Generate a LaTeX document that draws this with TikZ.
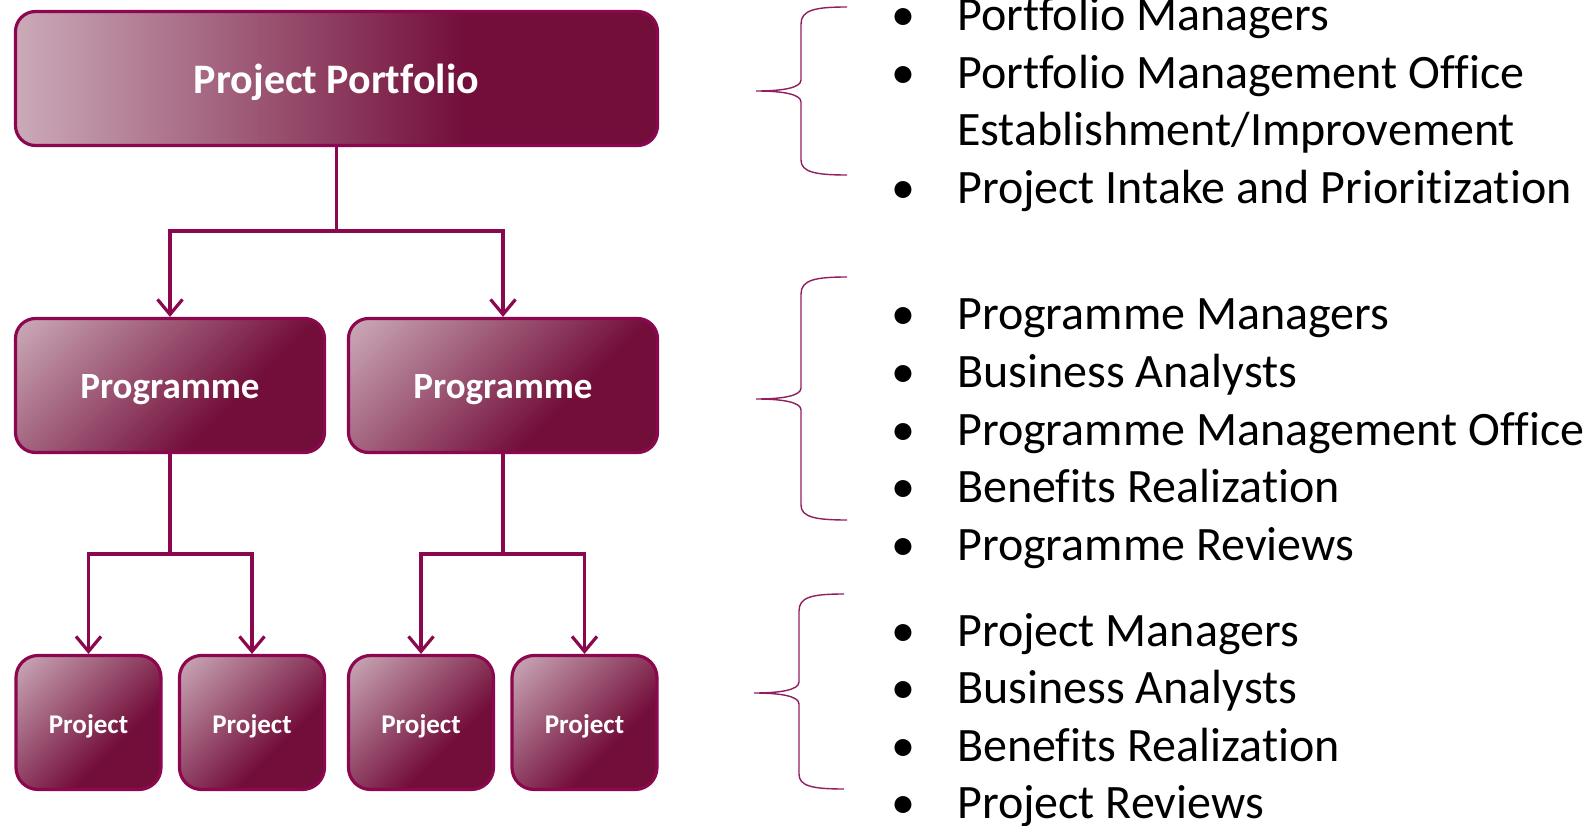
\documentclass[tikz,border=0pt]{standalone}
\usepackage{fontspec}
\setmainfont{Carlito}[Ligatures=NoCommon]
\usetikzlibrary{arrows.meta}
\definecolor{gl}{RGB}{203,170,184}
\definecolor{gd}{RGB}{115,14,58}
\definecolor{bd}{RGB}{140,8,78}
\definecolor{br}{RGB}{145,30,95}
\pgfdeclarehorizontalshading{hgrad}{100bp}{color(0bp)=(gl); color(25bp)=(gl); color(60bp)=(gd); color(100bp)=(gd)}
\pgfdeclarehorizontalshading{dgrad}{100bp}{color(0bp)=(gl); color(15bp)=(gl); color(63bp)=(gd); color(100bp)=(gd)}
\begin{document}
\begin{tikzpicture}[x=1pt,y=-1pt,
  boxbase/.style={draw=bd, line width=3.2pt, rounded corners=20pt, text=white, inner sep=0pt, text depth=0pt},
  topbox/.style={boxbase, shading=hgrad, minimum width=642pt, minimum height=134pt, text height=31pt, font=\bfseries\fontsize{42}{50}\selectfont},
  progbox/.style={boxbase, shading=dgrad, shading angle=-45, minimum width=309pt, minimum height=134pt, text height=26pt, font=\bfseries\fontsize{37}{44}\selectfont},
  projbox/.style={boxbase, shading=dgrad, shading angle=-45, minimum width=145pt, minimum height=134pt, rounded corners=22pt, text height=21pt, font=\bfseries\fontsize{27}{32}\selectfont},
  conn/.style={draw=bd, line width=3.2pt},
  arr/.style={conn, -{Straight Barb[length=15pt,width=25pt]}},
  brace/.style={draw=br, line width=1.4pt},
  item/.style={anchor=base west, inner sep=0pt, font=\fontsize{48}{57}\selectfont},
  bul/.style={anchor=base, inner sep=0pt, font=\fontsize{48}{57}\selectfont}
]
\useasboundingbox (0,0) rectangle (1590,826);

% boxes
\node[topbox] (top) at (336.5,78.5) {Project Portfolio};
\node[progbox] (pA) at (170,385.5) {Programme};
\node[progbox] (pB) at (503,385.5) {Programme};
\node[projbox] (q1) at (88.5,722.5) {Project};
\node[projbox] (q2) at (252,722.5) {Project};
\node[projbox] (q3) at (421,722.5) {Project};
\node[projbox] (q4) at (584.5,722.5) {Project};

% connectors
\coordinate (j1) at (336.5,231);
\coordinate (j2) at (170,554);
\coordinate (j3) at (503,554);
\draw[conn] (top.south) -- (j1);
\draw[arr] (j1) -| (pA.north);
\draw[arr] (j1) -| (pB.north);
\draw[conn] (pA.south) -- (j2);
\draw[arr] (j2) -| (q1.north);
\draw[arr] (j2) -| (q2.north);
\draw[conn] (pB.south) -- (j3);
\draw[arr] (j3) -| (q3.north);
\draw[arr] (j3) -| (q4.north);

% braces
\draw[brace] (847,7) .. controls (815,7) and (801,10) .. (801,24) -- (801,80)
  .. controls (801,88) and (782,91) .. (756,91)
  .. controls (782,91) and (801,94) .. (801,102) -- (801,160)
  .. controls (801,172) and (815,175) .. (847,175);
\draw[brace] (847,277) .. controls (815,277) and (801,280) .. (801,294) -- (801,388)
  .. controls (801,396) and (782,399) .. (756,399)
  .. controls (782,399) and (801,402) .. (801,410) -- (801,505)
  .. controls (801,517) and (815,520) .. (847,520);
\draw[brace] (844,594) .. controls (812,594) and (799,597) .. (799,611) -- (799,682)
  .. controls (799,690) and (780,693) .. (754,693)
  .. controls (780,693) and (799,696) .. (799,704) -- (799,774)
  .. controls (799,786) and (812,789) .. (844,789);

% lists
\node[bul] (b1) at (903,31) {•};
\node[item] (t1) at (957,31) {Portfolio Managers};
\node[bul] (b2) at (903,88.5) {•};
\node[item] (t2) at (957,88.5) {Portfolio Management Office};
\node[item] (t2b) at (957,146) {Establishment/Improvement};
\node[bul] (b3) at (903,203.5) {•};
\node[item] (t3) at (957,203.5) {Project Intake and Prioritization};

\node[bul] (b4) at (903,330) {•};
\node[item] (t4) at (957,330) {Programme Managers};
\node[bul] (b5) at (903,387.5) {•};
\node[item] (t5) at (957,387.5) {Business Analysts};
\node[bul] (b6) at (903,445) {•};
\node[item] (t6) at (957,445) {Programme Management Office};
\node[bul] (b7) at (903,502.5) {•};
\node[item] (t7) at (957,502.5) {Benefits Realization};
\node[bul] (b8) at (903,560) {•};
\node[item] (t8) at (957,560) {Programme Reviews};

\node[bul] (b9) at (903,646) {•};
\node[item] (t9) at (957,646) {Project Managers};
\node[bul] (b10) at (903,703.5) {•};
\node[item] (t10) at (957,703.5) {Business Analysts};
\node[bul] (b11) at (903,761) {•};
\node[item] (t11) at (957,761) {Benefits Realization};
\node[bul] (b12) at (903,818.5) {•};
\node[item] (t12) at (957,818.5) {Project Reviews};
\end{tikzpicture}
\end{document}
